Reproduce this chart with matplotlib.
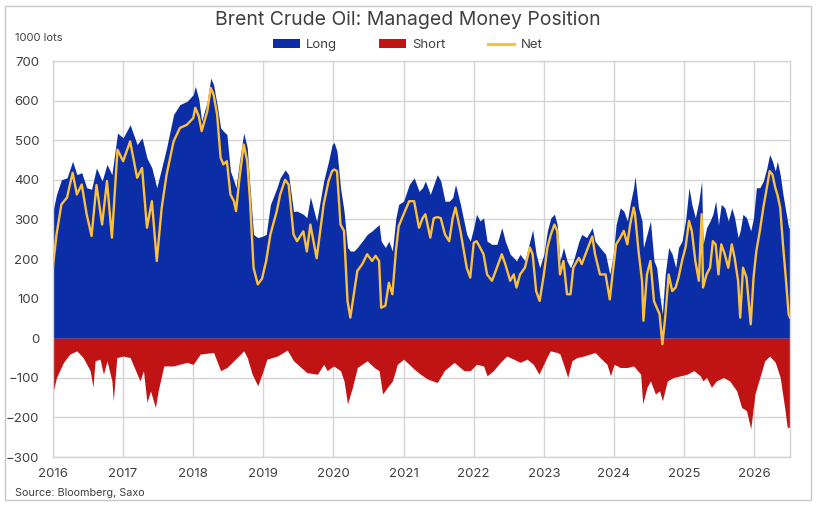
import matplotlib
matplotlib.use("Agg")
import matplotlib.pyplot as plt
from matplotlib.patches import Patch, Rectangle
from matplotlib.lines import Line2D

plt.rcParams["font.family"] = ["Inter", "DejaVu Sans"]

# Long and Net, read at the same positions (decimal years), 1000 lots
long_x = [2016.00, 2016.05, 2016.12, 2016.20, 2016.28, 2016.34, 2016.41, 2016.48, 2016.55, 2016.62,
          2016.70, 2016.77, 2016.84, 2016.92, 2017.00, 2017.10, 2017.20, 2017.27, 2017.34, 2017.41,
          2017.48, 2017.55, 2017.62, 2017.72, 2017.81, 2017.91,
          2018.00, 2018.03, 2018.08, 2018.12, 2018.20, 2018.25, 2018.29, 2018.34, 2018.39, 2018.43,
          2018.48, 2018.53, 2018.58, 2018.61, 2018.66, 2018.72, 2018.77, 2018.81, 2018.86, 2018.92,
          2018.98, 2019.04, 2019.10, 2019.19, 2019.24, 2019.31, 2019.36, 2019.43, 2019.48, 2019.57,
          2019.62, 2019.67, 2019.76,
          2019.86, 2019.93, 2019.98, 2020.01, 2020.05, 2020.10, 2020.15, 2020.20, 2020.24, 2020.29,
          2020.34, 2020.41, 2020.48, 2020.55, 2020.60, 2020.65, 2020.68, 2020.74, 2020.79, 2020.84,
          2020.89, 2020.93, 2021.00, 2021.08, 2021.15, 2021.22, 2021.27, 2021.31, 2021.38, 2021.43,
          2021.48, 2021.53, 2021.59, 2021.65, 2021.70, 2021.74, 2021.81,
          2021.90, 2021.95, 2022.00, 2022.04, 2022.09, 2022.14, 2022.19, 2022.26, 2022.33, 2022.40,
          2022.45, 2022.52, 2022.57, 2022.61, 2022.66, 2022.73, 2022.80, 2022.84, 2022.89, 2022.94,
          2023.00, 2023.05, 2023.10, 2023.15, 2023.19, 2023.23, 2023.28, 2023.33, 2023.38, 2023.42,
          2023.50, 2023.54, 2023.61, 2023.69, 2023.73, 2023.80, 2023.88,
          2023.94, 2023.99, 2024.03, 2024.09, 2024.14, 2024.19, 2024.23, 2024.28, 2024.30, 2024.35,
          2024.40, 2024.42, 2024.47, 2024.52, 2024.57, 2024.61, 2024.65, 2024.69, 2024.73, 2024.78,
          2024.83, 2024.88, 2024.92, 2024.97, 2025.02, 2025.07, 2025.11, 2025.16, 2025.21, 2025.25,
          2025.27, 2025.32, 2025.37, 2025.41, 2025.45, 2025.49, 2025.53, 2025.58, 2025.63, 2025.68,
          2025.72, 2025.77, 2025.80, 2025.84, 2025.89, 2025.95, 2025.99, 2026.03, 2026.08, 2026.13,
          2026.18, 2026.22, 2026.26, 2026.30, 2026.33, 2026.37, 2026.41, 2026.45, 2026.49, 2026.51]

long_pos = [321, 363, 400, 405, 447, 413, 418, 380, 376, 430,
            397, 439, 413, 518, 506, 539, 489, 506, 455, 430,
            380, 430, 481, 565, 590, 598,
            615, 636, 603, 548, 598, 657, 640, 590, 531, 523,
            514, 422, 397, 380, 447, 518, 481, 380, 262, 254,
            257, 262, 337, 378, 405, 425, 413, 320, 321, 313,
            304, 357, 295,
            397, 447, 489, 494, 472, 380, 321, 229, 220, 220,
            229, 245, 262, 271, 279, 287, 245, 229, 245, 220,
            304, 338, 346, 388, 405, 371, 380, 397, 363, 388,
            413, 397, 346, 346, 355, 388, 338,
            262, 245, 279, 313, 296, 304, 245, 237, 237, 279,
            245, 212, 203, 195, 212, 195, 245, 274, 212, 178,
            212, 271, 304, 313, 287, 195, 229, 195, 178, 195,
            245, 262, 254, 279, 245, 229, 212,
            161, 212, 287, 329, 321, 296, 338, 380, 409, 329,
            296, 229, 262, 296, 195, 178, 111, 61, 161, 229,
            212, 178, 229, 245, 296, 380, 338, 304, 346, 397,
            237, 279, 296, 313, 346, 287, 338, 329, 296, 329,
            304, 254, 271, 313, 304, 271, 304, 380, 380, 397,
            430, 464, 447, 422, 447, 413, 363, 321, 279, 279]

net_pos = [182, 262, 338, 355, 418, 363, 388, 313, 258, 387,
           287, 397, 254, 476, 447, 497, 405, 430, 279, 346,
           195, 329, 413, 497, 531, 539,
           556, 582, 560, 523, 573, 632, 615, 565, 456, 439,
           447, 363, 346, 321, 405, 489, 447, 346, 178, 136,
           150, 195, 262, 320, 363, 400, 388, 262, 245, 270,
           219, 287, 202,
           338, 397, 422, 426, 422, 287, 271, 94, 52, 111,
           170, 187, 212, 195, 208, 195, 77, 82, 140, 111,
           220, 283, 313, 346, 346, 279, 303, 313, 254, 303,
           306, 303, 262, 245, 303, 330, 271,
           178, 153, 241, 245, 229, 212, 161, 145, 178, 212,
           187, 145, 161, 128, 161, 178, 229, 212, 119, 94,
           161, 229, 262, 287, 271, 161, 195, 111, 111, 178,
           203, 187, 220, 257, 212, 161, 161,
           98, 178, 237, 254, 271, 237, 287, 330, 313, 220,
           145, 44, 161, 195, 94, 77, 61, -15, 52, 161,
           119, 128, 153, 195, 229, 296, 271, 195, 145, 313,
           128, 161, 178, 245, 237, 161, 237, 212, 178, 237,
           203, 145, 52, 178, 153, 35, 153, 220, 271, 330,
           380, 422, 413, 380, 363, 330, 237, 153, 61, 52]

# Short positions (negative), own positions
short_x = [2016.00, 2016.05, 2016.15, 2016.24, 2016.34, 2016.43, 2016.53, 2016.57, 2016.60, 2016.67,
           2016.72, 2016.77, 2016.84, 2016.86, 2016.91, 2017.00, 2017.10, 2017.20, 2017.24, 2017.29,
           2017.34, 2017.39, 2017.46, 2017.50, 2017.58, 2017.72, 2017.91,
           2018.00, 2018.10, 2018.29, 2018.39, 2018.48, 2018.72, 2018.77, 2018.84, 2018.92, 2018.98,
           2019.05, 2019.20, 2019.34, 2019.43, 2019.62, 2019.77, 2019.86,
           2019.91, 2020.00, 2020.10, 2020.15, 2020.20, 2020.27, 2020.34, 2020.48, 2020.58, 2020.65,
           2020.70, 2020.77, 2020.84, 2020.91, 2021.00, 2021.15, 2021.24, 2021.34, 2021.48, 2021.58,
           2021.72, 2021.86,
           2021.95, 2022.04, 2022.14, 2022.19, 2022.28, 2022.38, 2022.47, 2022.57, 2022.66, 2022.76,
           2022.85, 2022.93, 2023.02, 2023.09, 2023.19, 2023.23, 2023.28, 2023.34, 2023.40, 2023.47,
           2023.57, 2023.66, 2023.73, 2023.80, 2023.90, 2023.95,
           2024.00, 2024.09, 2024.19, 2024.28, 2024.38, 2024.41, 2024.47, 2024.52, 2024.59, 2024.65,
           2024.69, 2024.76, 2024.85, 2024.95, 2025.04, 2025.14, 2025.23,
           2025.27, 2025.32, 2025.39, 2025.46, 2025.56, 2025.65, 2025.75, 2025.82, 2025.89, 2025.95,
           2026.01, 2026.08, 2026.15, 2026.22, 2026.30, 2026.37, 2026.44, 2026.47, 2026.51]

short_pos = [-137, -99, -61, -40, -32, -49, -82, -124, -57, -53,
             -91, -57, -108, -158, -49, -45, -49, -91, -108, -82,
             -162, -133, -175, -133, -70, -70, -61,
             -66, -40, -36, -82, -74, -32, -49, -91, -120, -91,
             -53, -45, -30, -57, -87, -91, -66,
             -82, -70, -82, -108, -166, -124, -74, -57, -74, -82,
             -141, -124, -108, -66, -53, -78, -91, -103, -112, -82,
             -61, -82,
             -82, -66, -70, -95, -82, -61, -45, -53, -61, -53,
             -66, -91, -57, -32, -36, -40, -66, -99, -57, -49,
             -45, -40, -36, -49, -66, -95,
             -66, -74, -74, -70, -91, -166, -124, -108, -141, -133,
             -158, -108, -99, -95, -91, -82, -95,
             -108, -99, -124, -108, -99, -108, -133, -175, -183, -229,
             -141, -99, -57, -45, -61, -99, -183, -225, -225]

years = list(range(2016, 2027))
y_ticks = list(range(-300, 701, 100))

BLUE = "#0b2ea6"
RED = "#c01414"
YELLOW = "#fdc03a"
TEXT = "#404040"
GRID = "#d4d4d4"

fig = plt.figure(figsize=(8.16, 5.07), dpi=100)
ax = fig.add_axes([53 / 816, 50 / 507, 737 / 816, 396 / 507])

ax.fill_between(long_x, 0, long_pos, color=BLUE, linewidth=0, zorder=2)
ax.fill_between(short_x, short_pos, 0, color=RED, linewidth=0, zorder=2)
ax.plot(long_x, net_pos, color=YELLOW, linewidth=1.7, zorder=3, solid_joinstyle="round")

ax.set_xlim(2016, 2026.51)
ax.set_ylim(-300, 700)
ax.set_xticks(years)
ax.set_xticklabels([str(y) for y in years])
ax.set_yticks(y_ticks)
ax.grid(True, color=GRID, linewidth=1.0, zorder=0)
ax.set_axisbelow(True)
for s in ax.spines.values():
    s.set_color(GRID)
    s.set_linewidth(1.0)
ax.tick_params(length=0, labelsize=9.5, colors=TEXT)
ax.tick_params(axis="y", pad=10)
ax.tick_params(axis="x", pad=8)

fig.text(0.5, 1 - 20 / 507, "Brent Crude Oil: Managed Money Position", ha="center", va="center",
         fontsize=14, color=TEXT)
fig.text(15 / 816, 1 - 38 / 507, "1000 lots", ha="left", va="center", fontsize=8, color=TEXT)
fig.text(15 / 816, 1 - 493 / 507, "Source: Bloomberg, Saxo", ha="left", va="center", fontsize=7.8,
         color=TEXT)

handles = [Patch(facecolor=BLUE, edgecolor="none"),
           Patch(facecolor=RED, edgecolor="none"),
           Line2D([], [], color=YELLOW, linewidth=2.2)]
fig.legend(handles, ["Long", "Short", "Net"], loc="center", bbox_to_anchor=(0.5, 1 - 45 / 507),
           ncol=3, frameon=False, fontsize=9.5, handlelength=2.0, handleheight=0.6,
           columnspacing=3.2, handletextpad=0.5, labelcolor=TEXT)

fig.patches.append(Rectangle((5 / 816, 7 / 507), 806 / 816, 494 / 507, transform=fig.transFigure,
                             fill=False, edgecolor="#c8c8c8", linewidth=1.0))

fig.savefig("out.png", dpi=100)
